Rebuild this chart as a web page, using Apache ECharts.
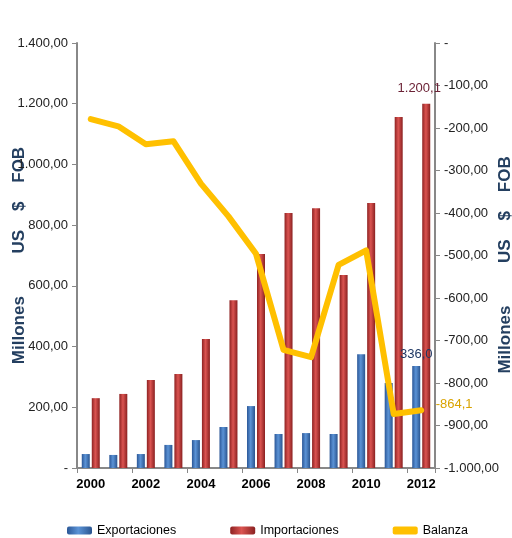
<!DOCTYPE html>
<html>
<head>
<meta charset="utf-8">
<script src="https://cdn.jsdelivr.net/npm/echarts@6/dist/echarts.min.js"></script>
<style>
  html, body { margin: 0; padding: 0; background: #fff; }
  #chart { width: 512px; height: 538px; }
</style>
</head>
<body>
<div id="chart"></div>
<script>
const years = ['2000', '2001', '2002', '2003', '2004', '2005', '2006', '2007', '2008', '2009', '2010', '2011', '2012']
const exportaciones = [46, 43, 46, 76, 92, 135, 204, 112, 115, 112, 375, 280, 336.0]
const importaciones = [230, 244, 290, 310, 425, 553, 705, 840, 856, 636, 873, 1156, 1200.1]
const balanza = [-179, -196, -238, -231, -331, -408, -496, -722, -739, -522, -488, -873, -864.1]
const leftTicks = [0, 1400, 200]
const rightTicks = [-1000, 0, 100]

// formato español: 1.200,00
function fmt(v, dec) {
    let s = Math.abs(v).toFixed(dec)
    let [ent, fr] = s.split('.')
    ent = ent.replace(/\B(?=(\d{3})+(?!\d))/g, '.')
    return (v < 0 ? '-' : '') + ent + (fr ? ',' + fr : '')
}

const font = "'Liberation Sans', Arial, sans-serif"
const last = years.length - 1
const ejeNombre = 'Millones         US    $    FOB'

const blueGrad = new echarts.graphic.LinearGradient(0, 0, 1, 0, [
    { offset: 0, color: '#2B5797' },
    { offset: 0.45, color: '#5B93D6' },
    { offset: 1, color: '#2A5590' }
])
const redGrad = new echarts.graphic.LinearGradient(0, 0, 1, 0, [
    { offset: 0, color: '#8E2222' },
    { offset: 0.45, color: '#DB5451' },
    { offset: 1, color: '#8A2020' }
])

const chart = echarts.init(document.getElementById('chart'))
chart.setOption({
    animation: false,
    textStyle: { fontFamily: font },
    grid: { left: 77, right: 77, top: 43, bottom: 70, outerBoundsMode: 'none', containLabel: false },
    legend: {
        left: 62,
        top: 519,
        itemWidth: 25,
        itemHeight: 8,
        itemGap: 54,
        icon: 'roundRect',
        textStyle: { fontSize: 12.5, color: '#000', fontFamily: font },
        data: ['Exportaciones', 'Importaciones', 'Balanza']
    },
    xAxis: {
        type: 'category',
        data: years,
        axisLine: { lineStyle: { color: '#888', width: 2 } },
        axisTick: { show: true, length: 5, lineStyle: { color: '#888' } },
        axisLabel: { interval: 1, fontSize: 13, fontWeight: 'bold', color: '#000', margin: 10 }
    },
    yAxis: [{
        type: 'value',
        min: leftTicks[0],
        max: leftTicks[1],
        interval: leftTicks[2],
        name: ejeNombre,
        nameLocation: 'middle',
        nameRotate: 90,
        nameGap: 49,
        nameMoveOverlap: false,
        nameTextStyle: { fontSize: 17, fontWeight: 'bold', color: '#243F60' },
        axisLine: { show: true, lineStyle: { color: '#888', width: 2 } },
        axisTick: { show: true, length: 5, lineStyle: { color: '#888' } },
        splitLine: { show: false },
        axisLabel: {
            fontSize: 13, color: '#222', margin: 9,
            formatter: v => v === 0 ? '-' : fmt(v, 2)
        }
    }, {
        type: 'value',
        min: rightTicks[0],
        max: rightTicks[1],
        interval: rightTicks[2],
        name: ejeNombre + '    ',
        nameLocation: 'middle',
        nameRotate: 90,
        nameGap: 62,
        nameMoveOverlap: false,
        nameTextStyle: { fontSize: 17, fontWeight: 'bold', color: '#243F60' },
        axisLine: { show: true, lineStyle: { color: '#888', width: 2 } },
        axisTick: { show: true, length: 5, lineStyle: { color: '#888' } },
        splitLine: { show: false },
        axisLabel: {
            fontSize: 13, color: '#222', margin: 9, align: 'left',
            formatter: v => v === 0 ? '-' : fmt(v, 2)
        }
    }],
    series: [{
        name: 'Exportaciones',
        type: 'bar',
        barWidth: 8,
        barGap: '25%',
        itemStyle: { color: blueGrad },
        data: exportaciones.map((v, i) => i === last ? {
            value: v,
            label: { show: true, position: 'top', color: '#1F3864', fontSize: 13, formatter: () => fmt(v, 1) }
        } : v)
    }, {
        name: 'Importaciones',
        type: 'bar',
        barWidth: 8,
        itemStyle: { color: redGrad },
        data: importaciones.map((v, i) => i === last ? {
            value: v,
            label: { show: true, position: 'top', offset: [-7, -4], color: '#6B2236', fontSize: 13, formatter: () => fmt(v, 1) }
        } : v)
    }, {
        name: 'Balanza',
        type: 'line',
        yAxisIndex: 1,
        symbol: 'none',
        z: 5,
        itemStyle: { color: '#FFC000' },
        lineStyle: { color: '#FFC000', width: 6, cap: 'round', join: 'round' },
        data: balanza.map((v, i) => i === last ? {
            value: v,
            symbol: 'circle', symbolSize: 1,
            label: { show: true, position: 'right', offset: [9, -6], color: '#D9A300', fontSize: 13, formatter: () => fmt(v, 1) }
        } : v)
    }]
})

window.addEventListener('resize', function () {
    chart.resize()
})
</script>
</body>
</html>
